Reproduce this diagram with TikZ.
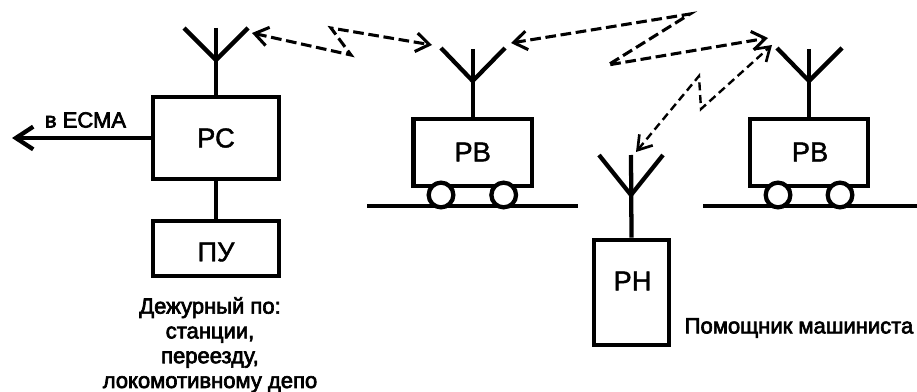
\documentclass[tikz,border=0pt]{standalone}
\usepackage{fontspec}
\setmainfont{Liberation Sans}
\newfontfamily\boldish[FakeBold=3]{Liberation Sans}
\newfontfamily\midish[FakeBold=1.5]{Liberation Sans}
\usetikzlibrary{arrows.meta}
\tikzset{
  unit/.style={draw=black,line width=3.2pt,fill=white,inner sep=0pt},
  wire/.style={line width=3.2pt,line cap=butt},
  railway/.style={line width=3.2pt},
  aerial/.style={line width=3.2pt,line cap=butt,line join=miter},
  wheel/.style={circle,draw=black,fill=white,line width=3.2pt,minimum size=18.5pt,inner sep=0pt},
  big/.style={font=\fontsize{20.5}{24}\selectfont\midish,inner sep=0pt},
  small/.style={font=\fontsize{16.5}{18.6}\selectfont\boldish,inner sep=0pt,align=center},
  radio/.style={dash pattern=on 8pt off 3.5pt,line width=2.3pt,
     {Straight Barb[length=10pt,width=14pt,line width=2.3pt]}-{Straight Barb[length=10pt,width=14pt,line width=2.3pt]}},
  radiothin/.style={dash pattern=on 6pt off 3.5pt,line width=1.8pt,
     {Straight Barb[length=10pt,width=13pt,line width=2pt]}-{Straight Barb[length=10pt,width=13pt,line width=2pt]}},
}
\begin{document}
\begin{tikzpicture}[x=0.75pt,y=-0.75pt]
\useasboundingbox (0,0) rectangle (917,392);
% boxes
\node[unit,minimum width=94.5pt,minimum height=62pt] (rc) at (216,138) {};
\node[unit,minimum width=94.5pt,minimum height=41.5pt] (pu) at (216,248.5) {};
\node[unit,minimum width=89pt,minimum height=50pt] (pb1) at (472.7,152.5) {};
\node[unit,minimum width=89pt,minimum height=50pt] (pb2) at (809,152.5) {};
\node[unit,minimum width=56.5pt,minimum height=79pt] (ph) at (631.5,292.5) {};
% texts
\node[big] (trc) at (216,138) {РС};
\node[big] (tpu) at (216,252) {ПУ};
\node[big] (tpb1) at (472.7,152) {РВ};
\node[big] (tpb2) at (810,152) {РВ};
\node[big] (tph) at (632.5,281) {РН};
\node[small] (tecma) at (85.5,120) {в ЕСМА};
\node[small,anchor=north] (tduty) at (210,297) {Дежурный по:\\станции,\\переезду,\\локомотивному депо};
\node[small] (thelper) at (799,328) {Помощник машиниста};
% rails
\coordinate (r1a) at (367,206); \coordinate (r1b) at (578,206);
\coordinate (r2a) at (703,206); \coordinate (r2b) at (917,206);
\draw[railway] (r1a) -- (r1b);
\draw[railway] (r2a) -- (r2b);
% wheels
\node[wheel] (w1) at (441,195) {};
\node[wheel] (w2) at (503.7,195) {};
\node[wheel] (w3) at (778,195) {};
\node[wheel] (w4) at (840,195) {};
% antennas
\coordinate (a1) at (216,60);  \coordinate (a1t) at (216,28);  \coordinate (a1l) at (184,28);  \coordinate (a1r) at (248,28);
\coordinate (a2) at (472.7,81);\coordinate (a2t) at (472.7,49);\coordinate (a2l) at (441,48);  \coordinate (a2r) at (505,48);
\coordinate (a3) at (809,81);  \coordinate (a3t) at (809,49);  \coordinate (a3l) at (777,48);  \coordinate (a3r) at (842,48);
\coordinate (a4) at (631,195); \coordinate (a4t) at (631,155); \coordinate (a4l) at (599,155); \coordinate (a4r) at (663,155);
\draw[aerial] (a1l) -- (a1) -- (a1r);
\draw[aerial] (a2l) -- (a2) -- (a2r);
\draw[aerial] (a3l) -- (a3) -- (a3r);
\draw[aerial] (a4l) -- (a4) -- (a4r);
\draw[wire] (a1t) -- (rc.north);
\draw[wire] (a2t) -- (pb1.north);
\draw[wire] (a3t) -- (pb2.north);
\draw[wire] (a4t) -- (ph.north);
\draw[wire] (rc.south) -- (pu.north);
% output arrow
\coordinate (out) at (12,138);
\draw[line width=2.8pt,-{Straight Barb[length=13pt,width=17pt,line width=3.2pt]}] (rc.west) -- (out);
% radio links
\coordinate (l1a) at (252,33); \coordinate (l1b) at (351,55); \coordinate (l1c) at (331,28); \coordinate (l1d) at (432,45);
\coordinate (l2a) at (511,43); \coordinate (l2b) at (690,14); \coordinate (l2c) at (608,65); \coordinate (l2d) at (768,38);
\coordinate (l3a) at (636,152); \coordinate (l3b) at (699,76); \coordinate (l3c) at (701,109); \coordinate (l3d) at (772,45);
\draw[radio] (l1a) -- (l1b) -- (l1c) -- (l1d);
\draw[radio] (l2a) -- (l2b) -- (l2c) -- (l2d);
\draw[radiothin] (l3a) -- (l3b) -- (l3c) -- (l3d);
\end{tikzpicture}
\end{document}
